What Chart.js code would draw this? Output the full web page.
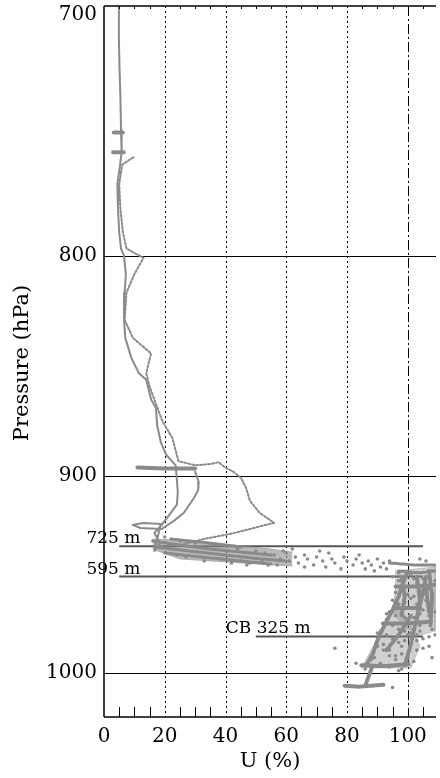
<!DOCTYPE html>
<html>
<head>
<meta charset="utf-8">
<script src="https://cdn.jsdelivr.net/npm/chart.js@4"></script>
<style>
html, body { margin: 0; padding: 0; background: #fff; overflow: hidden; }
#wrap { width: 440px; height: 778px; }
</style>
</head>
<body>
<div id="wrap"><canvas id="soundingChart" width="440" height="778"></canvas></div>
<script>
// Axis ticks
const xTicks = [0, 20, 40, 60, 80, 100];
const xMinorTicks = [5, 10, 15, 25, 30, 35, 45, 50, 55, 65, 70, 75, 85, 90, 95, 105];
const yTicks = [700, 800, 900, 1000];
const refLevels = [800, 900, 1000];
const dottedU = [20, 40, 60, 80];
const dashU = [100];

// Marked heights
const layerNames = ['725 m', '595 m', 'CB 325 m'];
const layerP = [934.6, 949.9, 980.8];
const layerFrom = [5, 5, 50];
const layerTo = [105, 105, 105];
const layerTextU = [-5.8, -5.8, 40.1];

// Soundings [U %, p hPa]
const soundingA = [[4.9,700],[4.9,712],[5.1,723],[5.4,735],[5.6,748],[5.8,757],[5.2,763],[4.4,770],[4.6,780],[5.0,790],[5.6,797],[6.6,800],[7.2,808],[6.8,816],[6.6,828],[7.0,836],[9.0,845],[11.5,852],[13.9,855],[15.5,864],[17.1,868],[17.5,876],[18.7,884],[20.5,890],[23.6,895],[24.0,902],[24.3,908],[24.0,914],[21.5,919],[19.0,924],[16.6,928],[18.0,932]];
const soundingB = [[9.7,759],[6.0,762],[5.0,770],[5.4,780],[6.2,790],[7.4,797],[13.0,801],[10.0,808],[7.4,816],[6.8,828],[9.5,836],[15.5,843],[13.9,852],[15.0,858],[17.1,866],[19.2,874],[22.5,882],[23.6,888],[24.5,893],[30.0,895],[35.5,894.3],[37.7,893.5],[39.8,896],[42.5,898],[45.1,901],[46.8,906],[48.0,912],[51.2,918],[56.0,923],[48.0,926],[41.5,928.5],[32.8,931],[25.0,934]];
const soundingC = [[30.0,898],[31.2,903],[31.0,907],[29.5,911],[26.3,918],[23.0,922],[19.0,926],[12.0,925.5],[9.4,924],[13.0,923],[18.7,923.5],[16.6,937],[18.5,933]];
const blobsUpper = [[[3.2,749],[6.2,749]], [[3.0,757],[6.5,757]], [[11,896],[20,896.5],[30,896.5]]];
// dense moist layer: upper and lower edge of the cloud of points
const bandTop = [[16,931],[25,931.5],[40,933.5],[55,936],[62,937.5]];
const bandBottom = [[16,936],[25,941],[40,942.5],[55,944],[62,944.5]];
// outlines of the dense clouds near saturation
const cloudRight = [[96,947],[109,945],[109,978],[104,980],[99,976],[95,968],[96,955],[96,947]];
const cloudLeft = [[84.7,997.5],[101,997.5],[104,986],[101,975],[96,962],[92,975],[88,988],[84.7,997.5]];
const bandLines = [
  [[16,932],[25,934],[35,936],[45,937.5],[55,939]],
  [[17,935],[28,937],[40,939],[52,941],[60,942]],
  [[20,938],[32,940],[45,942],[55,943.5]],
  [[22,931],[35,933],[45,935]],
  [[94,943],[102,944],[109,944]],
  [[97,947],[104,948],[109,947]]
];
const streaks = [
  [[86.4,996],[88.5,990],[90,983],[92,976],[95,967],[97,960],[98.5,953],[100,947]],
  [[99,996],[100.5,988],[102,978],[103.5,968],[105,958],[106,950]],
  [[84.7,996],[92,996.5],[100.3,995.5]],
  [[91.8,974],[100,974],[108,973]],
  [[96,955],[102,955],[109,954]],
  [[96,966],[104,966]],
  [[79.2,1007],[84,1007.5],[88,1007],[92,1006.5]],
  [[86,1007],[88.5,996]],
  [[107,947],[108,960],[107.5,975]],
  [[98,950],[99,960],[98,970]],
  [[103,950],[104,962],[103,972]],
  [[106,955],[107,968]],
  [[93,988],[97,980],[101,970]]
];
const strayDots = [[56,939],[58,941],[60,938],[61,942],[63,940],[64,943],[66,939],[67,941],[69,944],[70,940],[72,942],[73,945],[75,941],[76,943],[78,946],[79,940],[80,942],[82,944],[83,941],[85,943],[86,946],[87,942],[88,944],[90,941],[91,945],[92,943],[93,946],[94,942],[52,942],[54,944],[48,943],[45,942],[66,945],[71,937],[84,939],[89,947],[62,936],[74,938],[97,948],[101,949],[104,941],[106,942],[108,947],
  [20,930],[25,932],[30,933],[35,934],[38,941],[42,943],[47,944],[50,937],[53,938],[57,944],[27,940],[33,942],[44,936],[59,937],[24,939],
  [92,985],[94,988],[96,991],[98,986],[103,983],[105,987],[107,981],[108,992],[90,979],[100,980],[104,969],[106,962],[107,970],[89,992],[97,999],[76,987],[95,1008],[101,961],[99,971],[93,969],[102,951],[108,958],
  [95,950],[97,952],[99,951],[103,953],[105,951],[107,956],[109,952],[96,958],[98,957],[100,959],[102,960],[104,957],[106,959],[108,963],[95,962],[97,964],[99,963],[101,966],[103,964],[105,967],[107,965],[94,968],[96,970],[98,969],[100,972],[102,971],[104,975],[106,973],[108,977],[93,972],[95,975],[97,977],[99,978],[101,979],[103,980],[105,982],[91,978],[93,980],[95,982],[97,984],[99,983],[101,985],[103,988],[90,986],[92,988],[94,991],[96,993],[98,990],[100,992],[102,994],[88,993],[91,995],[94,997],[98,998],[83,995],[86,998],[104,978],[107,986],[109,968],[109,980]];

const GREY = '#8a8a8a';
const toPts = arr => arr.map(([u, p]) => ({ x: u, y: p }));

function trace(arr, width, dash) {
  return { data: toPts(arr), showLine: true, borderColor: GREY, borderWidth: width,
    borderDash: dash || [], pointRadius: 0, borderCapStyle: 'round', borderJoinStyle: 'round', fill: false };
}

const datasets = [];
datasets.push(trace(soundingA, 2));
datasets.push(trace(soundingB, 2, [2, 2]));
datasets.push(trace(soundingC, 2));
blobsUpper.forEach(b => datasets.push(trace(b, 4)));
// filled core of the moist layer (fill between the two edges)
datasets.push(Object.assign(trace(bandTop, 1), { borderColor: 'rgba(138,138,138,0.5)' }));
datasets.push(Object.assign(trace(bandBottom, 1), { borderColor: 'rgba(138,138,138,0.5)', fill: '-1', backgroundColor: 'rgba(138,138,138,0.6)' }));
[cloudRight, cloudLeft].forEach(c => datasets.push(Object.assign(trace(c, 1), {
  borderColor: 'rgba(138,138,138,0.4)', fill: 'shape', backgroundColor: 'rgba(138,138,138,0.4)'
})));
bandLines.forEach(b => datasets.push(trace(b, 3, [3, 1.5])));
streaks.forEach(s => datasets.push(trace(s, 4, [3, 1.5])));
datasets.push({ data: toPts(strayDots), showLine: false, pointRadius: 1.8, pointBackgroundColor: GREY, pointBorderWidth: 0 });
layerP.forEach((p, i) => datasets.push({
  data: [{ x: layerFrom[i], y: p }, { x: layerTo[i], y: p }],
  showLine: true, borderColor: '#555', borderWidth: 2, pointRadius: 0
}));

const FONT = '"DejaVu Serif", serif';

const decorPlugin = {
  id: 'decor',
  beforeDatasetsDraw(chart) {
    const { ctx, chartArea: a, scales: { x, y } } = chart;
    ctx.save();
    ctx.strokeStyle = '#000';
    ctx.lineWidth = 1;
    const seg = (x1, y1, x2, y2) => { ctx.beginPath(); ctx.moveTo(x1, y1); ctx.lineTo(x2, y2); ctx.stroke(); };
    ctx.setLineDash([2, 3]);
    dottedU.forEach(u => { const px = Math.round(x.getPixelForValue(u)) + 0.5; seg(px, a.top, px, a.bottom); });
    ctx.setLineDash([10, 3, 2, 3]);
    dashU.forEach(u => { const px = Math.round(x.getPixelForValue(u)) + 0.5; seg(px, a.top, px, a.bottom); });
    ctx.setLineDash([]);
    refLevels.forEach(p => { const py = Math.round(y.getPixelForValue(p)) + 0.5; seg(a.left, py, a.right, py); });
    ctx.restore();
  },
  afterDraw(chart) {
    const { ctx, chartArea: a, scales: { x, y } } = chart;
    ctx.save();
    ctx.strokeStyle = '#000';
    ctx.lineWidth = 1.5;
    const seg = (x1, y1, x2, y2) => { ctx.beginPath(); ctx.moveTo(x1, y1); ctx.lineTo(x2, y2); ctx.stroke(); };
    // frame
    seg(a.left, a.top, a.right, a.top);
    seg(a.left, a.top, a.left, a.bottom);
    seg(a.left, a.bottom, a.right, a.bottom);
    // minor ticks
    ctx.lineWidth = 1;
    xMinorTicks.forEach(u => {
      const px = Math.round(x.getPixelForValue(u)) + 0.5;
      seg(px, a.bottom, px, a.bottom - 10);
      seg(px, a.top, px, a.top + 3);
    });
    // tick labels
    ctx.fillStyle = '#000';
    ctx.font = '20px ' + FONT;
    ctx.textAlign = 'center';
    ctx.textBaseline = 'middle';
    xTicks.forEach(u => ctx.fillText(String(u), x.getPixelForValue(u), a.bottom + 20));
    ctx.textAlign = 'right';
    yTicks.forEach(p => {
      let py = y.getPixelForValue(p);
      if (py < a.top + 9) py = a.top + 9;
      ctx.fillText(String(p), a.left - 7, py);
    });
    // titles
    ctx.font = '21px ' + FONT;
    ctx.textAlign = 'center';
    ctx.fillText('U (%)', (a.left + a.right) / 2, a.bottom + 45);
    ctx.save();
    ctx.translate(23, 363);
    ctx.rotate(-Math.PI / 2);
    ctx.fillText('Pressure (hPa)', 0, 0);
    ctx.restore();
    // layer labels
    ctx.font = '17px ' + FONT;
    ctx.textAlign = 'left';
    ctx.textBaseline = 'alphabetic';
    layerNames.forEach((t, i) => ctx.fillText(t, x.getPixelForValue(layerTextU[i]), y.getPixelForValue(layerP[i]) - 3));
    ctx.restore();
  }
};

new Chart(document.getElementById('soundingChart').getContext('2d'), {
  type: 'scatter',
  data: { datasets },
  options: {
    responsive: false,
    animation: false,
    devicePixelRatio: 1,
    layout: { padding: { left: 104, top: 6, right: 0, bottom: 61 } },
    plugins: { legend: { display: false }, tooltip: { enabled: false }, filler: { propagate: false } },
    scales: {
      x: { type: 'linear', min: 0, max: 109.3, display: false },
      y: { type: 'logarithmic', min: 700, max: 1024, reverse: true, display: false }
    }
  },
  plugins: [decorPlugin]
});
</script>
</body>
</html>
